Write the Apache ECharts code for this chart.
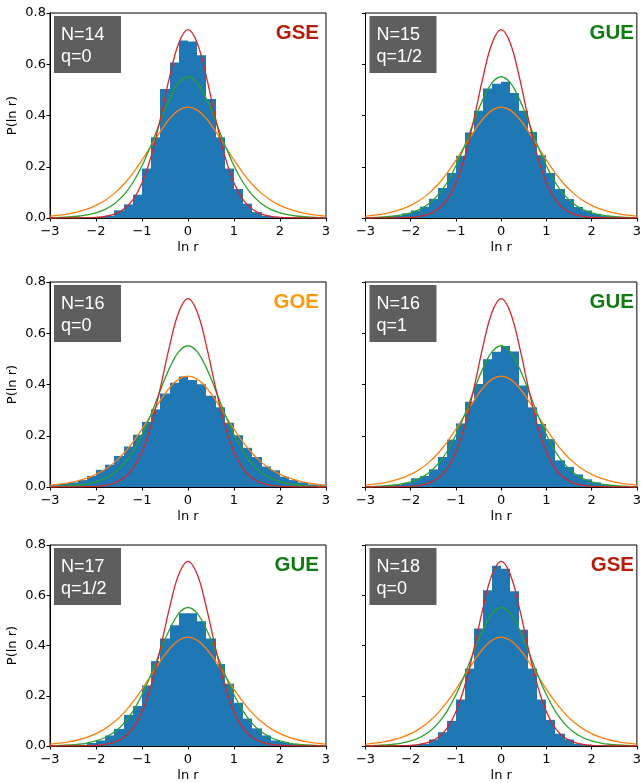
<!DOCTYPE html>
<html><head><meta charset="utf-8">
<script src="https://cdn.jsdelivr.net/npm/echarts@6/dist/echarts.min.js"></script>
<style>html,body{margin:0;padding:0;background:#fff}#c{width:644px;height:783px}</style>
</head><body><div id="c"></div>
<script>
// ---- data ----
const binEdges = [-3.0,-2.8,-2.6,-2.4,-2.2,-2.0,-1.8,-1.6,-1.4,-1.2,-1.0,-0.8,-0.6,-0.4,-0.2,0.0,0.2,0.4,0.6,0.8,1.0,1.2,1.4,1.6,1.8,2.0,2.2,2.4,2.6,2.8,3.0];
const curveX = [-3.0,-2.8,-2.6,-2.4,-2.2,-2.0,-1.8,-1.6,-1.4,-1.2,-1.0,-0.8,-0.6,-0.4,-0.2,0.0,0.2,0.4,0.6,0.8,1.0,1.2,1.4,1.6,1.8,2.0,2.2,2.4,2.6,2.8,3.0];
const goeCurve = [0.0077,0.0113,0.0165,0.0239,0.0344,0.0491,0.0692,0.0961,0.1309,0.1743,0.2255,0.2819,0.3382,0.3872,0.4210,0.4330,0.4210,0.3872,0.3382,0.2819,0.2255,0.1743,0.1309,0.0961,0.0692,0.0491,0.0344,0.0239,0.0165,0.0113,0.0077];
const gueCurve = [0.0012,0.0022,0.0039,0.0068,0.0118,0.0201,0.0339,0.0557,0.0891,0.1376,0.2037,0.2862,0.3779,0.4648,0.5280,0.5513,0.5280,0.4648,0.3779,0.2862,0.2037,0.1376,0.0891,0.0557,0.0339,0.0201,0.0118,0.0068,0.0039,0.0022,0.0012];
const gseCurve = [0.0000,0.0001,0.0002,0.0005,0.0011,0.0028,0.0067,0.0154,0.0339,0.0705,0.1367,0.2426,0.3881,0.5506,0.6833,0.7351,0.6833,0.5506,0.3881,0.2426,0.1367,0.0705,0.0339,0.0154,0.0067,0.0028,0.0011,0.0005,0.0002,0.0001,0.0000];

const histN14 = [0,0,0,0,0.001,0.003,0.009,0.030,0.053,0.091,0.193,0.315,0.503,0.607,0.693,0.689,0.635,0.464,0.315,0.193,0.113,0.056,0.023,0.009,0.003,0.001,0,0,0,0];
const histN15 = [0.002,0.003,0.005,0.009,0.018,0.029,0.044,0.075,0.117,0.176,0.243,0.334,0.419,0.505,0.524,0.532,0.488,0.419,0.336,0.245,0.176,0.113,0.074,0.043,0.029,0.016,0.009,0.005,0.002,0.001];
const histN16q0 = [0.007,0.012,0.018,0.027,0.043,0.067,0.087,0.121,0.158,0.204,0.254,0.303,0.365,0.407,0.431,0.418,0.401,0.356,0.311,0.251,0.202,0.153,0.117,0.080,0.065,0.040,0.027,0.018,0.010,0.007];
const histN16q1 = [0.001,0.002,0.005,0.009,0.016,0.034,0.043,0.069,0.117,0.185,0.248,0.333,0.402,0.499,0.528,0.550,0.529,0.396,0.311,0.246,0.187,0.104,0.078,0.049,0.030,0.018,0.009,0.005,0.002,0.001];
const histN17 = [0,0.001,0.002,0.005,0.012,0.022,0.042,0.068,0.124,0.159,0.241,0.338,0.428,0.481,0.528,0.528,0.497,0.428,0.326,0.248,0.172,0.109,0.070,0.042,0.022,0.016,0.008,0.004,0.001,0];
const histN18 = [0,0,0,0,0.001,0.003,0.009,0.026,0.055,0.100,0.185,0.308,0.468,0.620,0.717,0.705,0.616,0.463,0.308,0.185,0.104,0.049,0.026,0.009,0.005,0.001,0,0,0,0];

const panelN = ['N=14','N=15','N=16','N=16','N=17','N=18'];
const panelQ = ['q=0','q=1/2','q=0','q=1','q=1/2','q=0'];
const panelEnsemble = ['GSE','GUE','GOE','GUE','GUE','GSE'];
const panelHists = [histN14, histN15, histN16q0, histN16q1, histN17, histN18];
const xTickStep = 1, yTickStep = 0.2;

// ---- layout / style ----
const colLeft = [50, 365.5];
const colWidth = [276, 275.5];
const rowTop = [13, 282, 545];
const rowHeight = [205, 205, 206];
const ensembleColor = {GSE:'#b31e0a', GUE:'#117a11', GOE:'#fb9a12'};
const tickFont = 'DejaVu Sans';

const grids = [], xAxes = [], yAxes = [], series = [], graphics = [];
for (let p = 0; p < 6; p++) {
  const col = p % 2, row = Math.floor(p / 2);
  const L = colLeft[col], T = rowTop[row], W = colWidth[col], H = rowHeight[row];
  grids.push({left: L, top: T, width: W, height: H, show: true, borderColor: '#000', borderWidth: 1, backgroundColor: 'transparent'});
  xAxes.push({
    type: 'value', gridIndex: p, min: -3, max: 3, interval: xTickStep,
    name: 'ln r', nameLocation: 'middle', nameGap: 23,
    nameTextStyle: {fontFamily: tickFont, fontSize: 13, color: '#000'},
    axisLine: {show: true, onZero: false, lineStyle: {color: '#000', width: 1}},
    axisTick: {show: true, inside: false, length: 3.5, lineStyle: {color: '#000', width: 1}},
    axisLabel: {show: true, margin: 7, fontFamily: tickFont, fontSize: 13, color: '#000',
      showMinLabel: true, showMaxLabel: true,
      formatter: v => v < 0 ? '\u2212' + Math.abs(v) : String(v)},
    splitLine: {show: false}
  });
  yAxes.push({
    type: 'value', gridIndex: p, min: 0, max: 0.8, interval: yTickStep,
    name: col === 0 ? 'P(ln r)' : '', nameLocation: 'middle', nameGap: 31, nameRotate: 90,
    nameTextStyle: {fontFamily: tickFont, fontSize: 13, color: '#000'},
    axisLine: {show: true, onZero: false, lineStyle: {color: '#000', width: 1}},
    axisTick: {show: true, inside: false, length: 3.5, lineStyle: {color: '#000', width: 1}},
    axisLabel: {show: col === 0, margin: 4, fontFamily: tickFont, fontSize: 13, color: '#000',
      showMinLabel: true, showMaxLabel: true, formatter: v => v.toFixed(1)},
    splitLine: {show: false}
  });
  const hist = panelHists[p];
  series.push({
    type: 'custom', xAxisIndex: p, yAxisIndex: p, z: 2, clip: true,
    data: hist.map((h, i) => [binEdges[i], binEdges[i + 1], h]),
    encode: {x: [0, 1], y: 2},
    renderItem: function (params, api) {
      const a = api.coord([api.value(0), api.value(2)]);
      const b = api.coord([api.value(1), 0]);
      const x0 = Math.round(a[0]), x1 = Math.round(b[0]);
      return {type: 'rect', shape: {x: x0, y: a[1], width: x1 - x0, height: b[1] - a[1]},
        style: {fill: '#1f77b4', stroke: null, lineWidth: 0}};
    }
  });
  const curves = [[goeCurve, '#ff7f0e'], [gueCurve, '#2ca02c'], [gseCurve, '#d62728']];
  curves.forEach(([vals, color]) => {
    series.push({
      type: 'line', xAxisIndex: p, yAxisIndex: p, z: 3, smooth: 0.4, showSymbol: false, symbol: 'none',
      silent: true, lineStyle: {color: color, width: 1.3},
      data: curveX.map((x, i) => [x, vals[i]])
    });
  });
  // annotation box
  graphics.push({type: 'rect', shape: {x: L + 4, y: T + 3, width: 67, height: 57}, style: {fill: '#5e5e5e'}, z: 10});
  graphics.push({type: 'text', x: L + 11, y: T + 22, z: 11,
    style: {text: panelN[p], fill: '#fff', fontFamily: 'Liberation Sans', fontSize: 18, align: 'left', verticalAlign: 'middle'}});
  graphics.push({type: 'text', x: L + 11, y: T + 44, z: 11,
    style: {text: panelQ[p], fill: '#fff', fontFamily: 'Liberation Sans', fontSize: 18, align: 'left', verticalAlign: 'middle'}});
  graphics.push({type: 'text', x: L + W - 7, y: T + 20, z: 11,
    style: {text: panelEnsemble[p], fill: ensembleColor[panelEnsemble[p]], fontFamily: 'Liberation Sans', fontWeight: 'bold', fontSize: 20.5, align: 'right', verticalAlign: 'middle'}});
}

const chart = echarts.init(document.getElementById('c'), null, {renderer: 'canvas'});
chart.setOption({
  animation: false,
  backgroundColor: '#fff',
  grid: grids, xAxis: xAxes, yAxis: yAxes, series: series, graphic: graphics
});
</script></body></html>
